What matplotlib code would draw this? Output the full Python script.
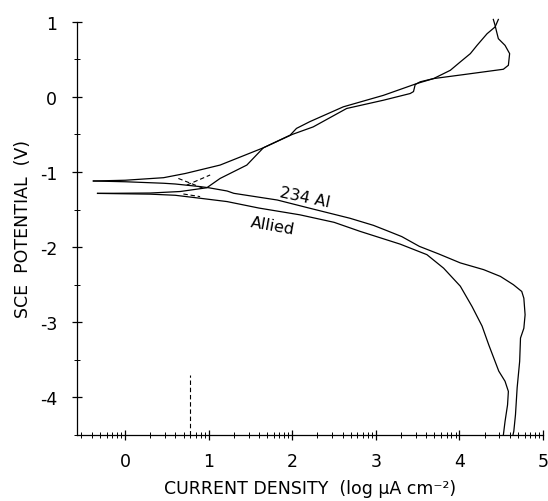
import numpy as np
import matplotlib
matplotlib.use("Agg")
import matplotlib.pyplot as plt

plt.rcParams["font.family"] = ["DejaVu Sans"]

# 234 Al, cathodic branch
al_cat_x = [-0.38, 0.0, 0.46, 0.6, 0.9, 1.0, 1.22, 1.3, 1.82, 2.2, 2.69, 2.97, 3.13,
            3.31, 3.52, 3.75, 4.01, 4.29, 4.49, 4.645, 4.745, 4.77, 4.785, 4.77,
            4.73, 4.72, 4.69, 4.67, 4.65, 4.64]
al_cat_y = [-1.12, -1.13, -1.15, -1.16, -1.195, -1.21, -1.253, -1.284, -1.373, -1.48,
            -1.616, -1.71, -1.78, -1.86, -1.99, -2.09, -2.21, -2.30, -2.39, -2.50,
            -2.59, -2.68, -2.90, -3.08, -3.21, -3.52, -3.87, -4.23, -4.45, -4.5]

# Allied, cathodic branch
all_cat_x = [-0.33, 0.3, 0.6, 0.9, 1.22, 1.6, 2.09, 2.5, 2.81, 3.29, 3.61, 3.81, 4.01,
             4.15, 4.27, 4.35, 4.47, 4.545, 4.585, 4.575, 4.545, 4.525]
all_cat_y = [-1.285, -1.295, -1.31, -1.35, -1.394, -1.48, -1.57, -1.67, -1.79, -1.96,
             -2.10, -2.28, -2.52, -2.79, -3.05, -3.30, -3.65, -3.785, -3.92, -4.10,
             -4.32, -4.5]

# 234 Al, anodic branch
al_an_x = [-0.38, 0.0, 0.46, 0.72, 1.136, 1.654, 1.974, 2.05, 2.21, 2.61, 3.09, 3.49,
           3.69, 3.89, 4.01, 4.13, 4.21, 4.33, 4.426, 4.465]
al_an_y = [-1.12, -1.11, -1.076, -1.02, -0.908, -0.678, -0.51, -0.42, -0.33, -0.133,
           0.02, 0.177, 0.243, 0.353, 0.465, 0.575, 0.685, 0.84, 0.93, 1.03]

# Allied, anodic branch
all_an_x = [-0.33, 0.3, 0.658, 0.977, 1.136, 1.456, 1.654, 2.0, 2.25, 2.65, 3.09, 3.41,
            3.45, 3.47, 3.53, 3.69, 4.05, 4.525, 4.585, 4.6, 4.545, 4.465, 4.44, 4.426,
            4.405]
all_an_y = [-1.285, -1.28, -1.26, -1.21, -1.086, -0.908, -0.678, -0.50, -0.40, -0.155,
            -0.045, 0.044, 0.07, 0.163, 0.20, 0.243, 0.296, 0.367, 0.42, 0.575, 0.685,
            0.774, 0.885, 0.951, 1.03]

# dashed Tafel extrapolations and the vertical marker
tafel_lines = [
    ([0.637, 0.937], [-1.086, -1.218]),
    ([0.738, 1.017], [-1.174, -1.04]),
    ([0.697, 0.897], [-1.293, -1.328]),
    ([0.78, 0.78], [-4.5, -3.7]),
]

fig = plt.figure(figsize=(5.48, 5.02), dpi=100)
ax = fig.add_axes([0.1414, 0.1315, 0.8496, 0.8233])

for xs, ys in [(al_cat_x, al_cat_y), (all_cat_x, all_cat_y),
               (al_an_x, al_an_y), (all_an_x, all_an_y)]:
    ax.plot(xs, ys, color="black", lw=0.9, clip_on=False)

for xs, ys in tafel_lines:
    ax.plot(xs, ys, color="black", lw=0.8, linestyle=(0, (4, 2.5)))

ax.text(2.15, -1.33, "234 Al", fontsize=11.5, rotation=-12, ha="center", va="center")
ax.text(1.76, -1.71, "Allied", fontsize=11.5, rotation=-10, ha="center", va="center")

ax.set_xlim(-0.57, 5.0)
ax.set_ylim(-4.5, 1.0)
ax.spines["top"].set_visible(False)
ax.spines["right"].set_visible(False)
ax.spines["left"].set_linewidth(0.9)
ax.spines["bottom"].set_linewidth(0.9)

ax.set_xticks([0, 1, 2, 3, 4, 5])
ax.set_yticks([-4, -3, -2, -1, 0, 1])
ax.set_yticklabels(["-4", "-3", "-2", "-1", "0", "1"])
minor_x = [n + np.log10(k) for n in range(-1, 5) for k in range(2, 10)]
minor_x = [v for v in minor_x if -0.57 < v < 5.0]
ax.set_xticks(minor_x, minor=True)
ax.set_yticks(np.arange(-4.5, 1.0, 0.5), minor=True)
ax.tick_params(which="major", direction="inout", length=7, width=0.9,
               labelsize=12.5)
ax.tick_params(axis="x", which="major", pad=9)
ax.tick_params(axis="y", which="major", pad=11)
ax.tick_params(which="minor", direction="inout", length=4, width=0.7)

ax.set_ylabel("SCE  POTENTIAL  (V)", fontsize=12.5, labelpad=6)
ax.set_xlabel("CURRENT DENSITY  (log \u00b5A cm\u207b\u00b2)", fontsize=12.5, labelpad=6)

fig.savefig("out.png", dpi=100)
